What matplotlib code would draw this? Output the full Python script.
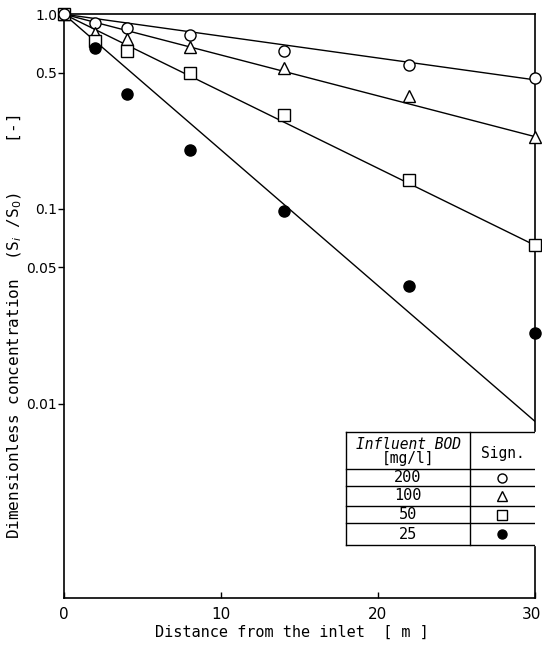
import matplotlib
matplotlib.use("Agg")
from matplotlib import pyplot as plt
from matplotlib import transforms

# data
dist = [0, 2, 4, 8, 14, 22, 30]
c200 = [1.0, 0.90, 0.85, 0.78, 0.645, 0.55, 0.47]
c100 = [1.0, 0.80, 0.75, 0.68, 0.53, 0.38, 0.235]
c50 = [1.0, 0.73, 0.65, 0.50, 0.305, 0.14, 0.065]
c25 = [1.0, 0.67, 0.39, 0.20, 0.098, 0.040, 0.023]

# fitted lines: value at x=0 and x=30
line_x = [0, 30]
fit200 = [1.0, 0.46]
fit100 = [1.0, 0.235]
fit50 = [1.0, 0.065]
fit25 = [1.0, 0.0081]

bod_labels = ['200', '100', '50', '25']

plt.rcParams['font.family'] = 'DejaVu Sans'
plt.rcParams['font.size'] = 10.5
mono = 'DejaVu Sans Mono'

fig = plt.figure(figsize=(5.42, 6.46), dpi=100)
ax = fig.add_axes([0.118, 0.074, 0.869, 0.904])

for fit in (fit200, fit100, fit50, fit25):
    ax.plot(line_x, fit, color='black', lw=1.0, zorder=2)

ms = 8
ax.plot(dist, c200, 'o', mfc='white', mec='black', mew=1.0, ms=ms, zorder=3, clip_on=False)
ax.plot(dist, c100, '^', mfc='white', mec='black', mew=1.0, ms=ms, zorder=3, clip_on=False)
ax.plot(dist, c50, 's', mfc='white', mec='black', mew=1.0, ms=ms, zorder=3, clip_on=False)
ax.plot(dist[1:], c25[1:], 'o', mfc='black', mec='black', ms=ms, zorder=3, clip_on=False)
ax.plot([0], [1.0], 'o', mfc='white', mec='black', mew=1.0, ms=ms, zorder=4, clip_on=False)

ax.set_yscale('log')
ax.set_xlim(0, 30)
ax.set_ylim(0.001, 1.0)
ax.set_yticks([1.0, 0.5, 0.1, 0.05, 0.01])
ax.set_yticklabels(['1.0', '0.5', '0.1', '0.05', '0.01'], fontsize=10)
ax.yaxis.set_minor_locator(matplotlib.ticker.NullLocator())
ax.set_xticks([0, 10, 20, 30])
ax.set_xticklabels(['0', '10', '20', '30'], fontsize=11)
ax.tick_params(axis='y', direction='out', length=4, width=1.0, pad=1)
ax.tick_params(axis='x', direction='in', length=4, width=1.0, pad=6)
last = ax.get_xticklabels()[-1]
last.set_transform(last.get_transform() + transforms.ScaledTranslation(-3 / 100, 0, fig.dpi_scale_trans))
for s in ax.spines.values():
    s.set_linewidth(1.2)

ax.set_xlabel('Distance from the inlet  [ m ]', family=mono, fontsize=11)
ax.xaxis.set_label_coords(0.484, -0.046)
ax.set_ylabel('Dimensionless concentration  (S$_i$ /S$_0$)     [-]', family=mono, fontsize=11.5)
ax.yaxis.set_label_coords(-0.084, 0.464)

# legend table
tx0, tx1, tdiv = 0.599, 1.0, 0.862
rows = [0.284, 0.221, 0.192, 0.158, 0.128, 0.091]
tr = ax.transAxes
for y in rows:
    ax.plot([tx0, tx1], [y, y], color='black', lw=1.0, transform=tr, zorder=5)
ax.plot([tx0, tx0], [rows[0], rows[-1]], color='black', lw=1.0, transform=tr, zorder=5)
ax.plot([tdiv, tdiv], [rows[0], rows[-1]], color='black', lw=1.0, transform=tr, zorder=5)
ax.fill_between([tx0, tx1], rows[-1], rows[0], color='white', transform=tr, zorder=4)

cx = (tx0 + tdiv) / 2
ax.text(cx, 0.264, 'Influent BOD', style='italic', family=mono, fontsize=10.5,
        ha='center', va='center', transform=tr, zorder=6)
ax.text(cx, 0.240, '[mg/l]', family=mono, fontsize=10.5,
        ha='center', va='center', transform=tr, zorder=6)
ax.text((tdiv + tx1) / 2, 0.247, 'Sign.', family=mono, fontsize=10.5,
        ha='center', va='center', transform=tr, zorder=6)

mx = (tdiv + tx1) / 2
styles = [('o', 'white'), ('^', 'white'), ('s', 'white'), ('o', 'black')]
for i, lab in enumerate(bod_labels):
    yc = (rows[i + 1] + rows[i + 2]) / 2
    ax.text(cx, yc, lab, family=mono, fontsize=11, ha='center', va='center', transform=tr, zorder=6)
    m, fc = styles[i]
    ax.plot([mx], [yc], m, mfc=fc, mec='black', mew=1.0, ms=6.5, transform=tr, zorder=6)

fig.savefig('out.png', dpi=100)
